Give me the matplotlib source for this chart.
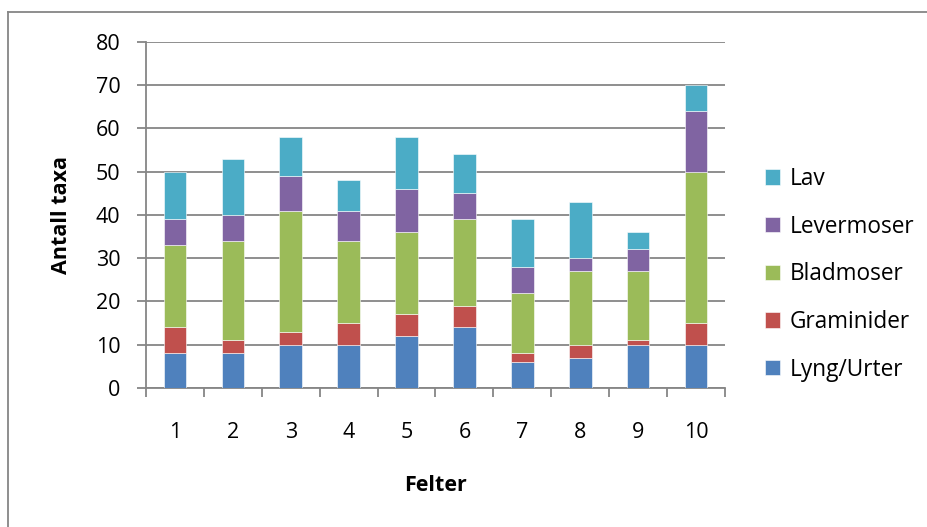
import numpy as np
import matplotlib.pyplot as plt
from matplotlib.lines import Line2D

plt.rcParams['font.family'] = ['Open Sans', 'DejaVu Sans']

# data
felter = ['1', '2', '3', '4', '5', '6', '7', '8', '9', '10']
lyng_urter = [8, 8, 10, 10, 12, 14, 6, 7, 10, 10]
graminider = [6, 3, 3, 5, 5, 5, 2, 3, 1, 5]
bladmoser = [19, 23, 28, 19, 19, 20, 14, 17, 16, 35]
levermoser = [6, 6, 8, 7, 10, 6, 6, 3, 5, 14]
lav = [11, 13, 9, 7, 12, 9, 11, 13, 4, 6]

series = [('Lyng/Urter', lyng_urter, '#4F81BD'),
          ('Graminider', graminider, '#C0504D'),
          ('Bladmoser', bladmoser, '#9BBB59'),
          ('Levermoser', levermoser, '#8064A2'),
          ('Lav', lav, '#4BACC6')]

W, H = 928, 527
fs = 15.5
fig = plt.figure(figsize=(W / 100, H / 100), dpi=100)
ax = fig.add_axes([146 / W, 1 - 388 / H, (725 - 146) / W, (388 - 41.7) / H])

grid_c = '#868686'
x = np.arange(len(felter))
bottom = np.zeros(len(felter))
bars = []
for name, vals, col in series:
    b = ax.bar(x, vals, 0.39, bottom=bottom, color=col, edgecolor='white',
               linewidth=0.4, label=name, zorder=3)
    bars.append(b)
    bottom += np.array(vals)

ax.set_xlim(-0.5, len(felter) - 0.5)
ax.set_ylim(0, 80)
ax.set_yticks(range(0, 81, 10))
ax.yaxis.grid(True, color=grid_c, linewidth=1.3, zorder=0)
ax.set_axisbelow(True)

for s in ['top', 'right']:
    ax.spines[s].set_visible(False)
for s in ['left', 'bottom']:
    ax.spines[s].set_color(grid_c)
    ax.spines[s].set_linewidth(1.3)

ax.set_xticks(x)
ax.set_xticklabels(felter)
ax.set_xticks(np.arange(-0.5, len(felter)), minor=True)
ax.tick_params(axis='x', which='major', length=0, pad=24.5, labelsize=fs)
ax.tick_params(axis='x', which='minor', length=6.5, width=1.3, color=grid_c, direction='out')
ax.tick_params(axis='y', length=6.5, width=1.3, color=grid_c, pad=12, labelsize=fs)

ax.set_xlabel('Felter', fontsize=fs, fontweight='bold', labelpad=23)
ax.set_ylabel('Antall taxa', fontsize=fs, fontweight='bold', labelpad=17)

# legend, reversed like Excel
handles = bars[::-1]
labels = [s[0] for s in series][::-1]
fig.legend(handles, labels, loc='upper left', bbox_to_anchor=(765 / W, 1 - 167 / H),
           frameon=False, fontsize=16.3, handlelength=0.68, handleheight=0.68,
           handletextpad=0.4, labelspacing=1.045, borderaxespad=0, borderpad=0)

# outer chart border
fig.add_artist(Line2D([8 / W, 1], [1 - 12 / H, 1 - 12 / H], color=grid_c, lw=1.3, transform=fig.transFigure))
fig.add_artist(Line2D([8 / W, 8 / W], [0, 1 - 12 / H], color=grid_c, lw=1.3, transform=fig.transFigure))

fig.savefig('out.png', dpi=100)
